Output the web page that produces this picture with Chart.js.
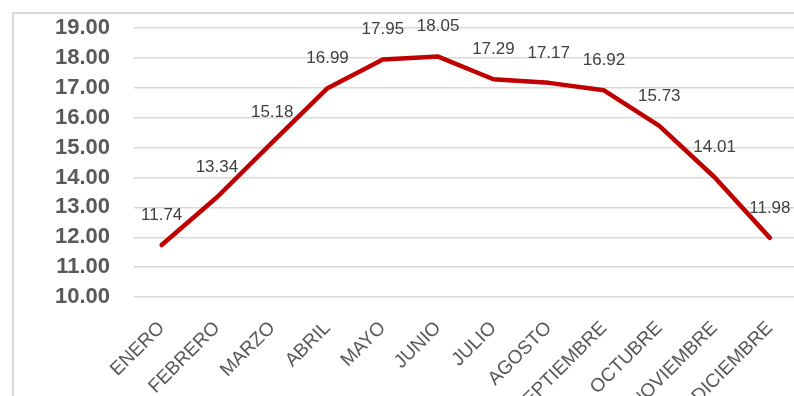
<!DOCTYPE html>
<html>
<head>
<meta charset="utf-8">
<script src="https://cdn.jsdelivr.net/npm/chart.js@4"></script>
<style>
  html, body { margin: 0; padding: 0; overflow: hidden; background: #fff; }
  #wrap { position: absolute; left: 0; top: -9px; width: 798px; height: 446px; }
  #frame { position: absolute; left: 12px; top: 12px; width: 900px; height: 600px;
           border-left: 2px solid #d9d9d9; border-top: 2px solid #d9d9d9; }
</style>
</head>
<body>
<div id="frame"></div>
<div id="wrap"><canvas id="myChart" width="798" height="446"></canvas></div>
<script>
const meses = ['ENERO', 'FEBRERO', 'MARZO', 'ABRIL', 'MAYO', 'JUNIO', 'JULIO',
  'AGOSTO', 'SEPTIEMBRE', 'OCTUBRE', 'NOVIEMBRE', 'DICIEMBRE'];
const valores = [11.74, 13.34, 15.18, 16.99, 17.95, 18.05, 17.29, 17.17, 16.92, 15.73, 14.01, 11.98];
const yMin = 10;
const yMax = 19;

const ctx = document.getElementById('myChart').getContext('2d');

// value text over each point of the line
const etiquetas = {
  id: 'etiquetas',
  afterDatasetsDraw(chart) {
    const c = chart.ctx;
    const meta = chart.getDatasetMeta(0);
    c.save();
    c.font = '17px "Liberation Sans", Arial, sans-serif';
    c.fillStyle = '#404040';
    c.textAlign = 'center';
    c.textBaseline = 'middle';
    meta.data.forEach((p, i) => {
      c.fillText(valores[i].toFixed(2), p.x, p.y - 30);
    });
    c.restore();
  }
};

new Chart(ctx, {
  type: 'line',
  data: {
    labels: meses,
    datasets: [{
      data: valores,
      borderColor: '#C00000',
      borderWidth: 4.5,
      borderCapStyle: 'round',
      borderJoinStyle: 'round',
      pointRadius: 0,
      tension: 0,
      fill: false
    }]
  },
  options: {
    responsive: false,
    animation: false,
    layout: { padding: { top: 18, right: 0, left: 0, bottom: 0 } },
    plugins: { legend: { display: false }, tooltip: { enabled: false } },
    scales: {
      x: {
        offset: true,
        grid: { display: false },
        border: { display: false },
        ticks: {
          autoSkip: false,
          maxRotation: 45,
          minRotation: 45,
          padding: 12,
          color: '#595959',
          font: { family: '"Liberation Sans", Arial, sans-serif', size: 19 }
        },
        afterFit(s) { s.height = 140; }
      },
      y: {
        min: yMin,
        max: yMax,
        grid: { color: '#d9d9d9', lineWidth: 1.5, drawTicks: false },
        border: { display: false },
        ticks: {
          stepSize: 1,
          autoSkip: false,
          padding: 24,
          color: '#595959',
          font: { family: '"Liberation Sans", Arial, sans-serif', size: 22, weight: 'bold' },
          callback: (v) => v.toFixed(2)
        },
        afterFit(s) { s.width = 134; }
      }
    }
  },
  plugins: [etiquetas]
});
</script>
</body>
</html>
